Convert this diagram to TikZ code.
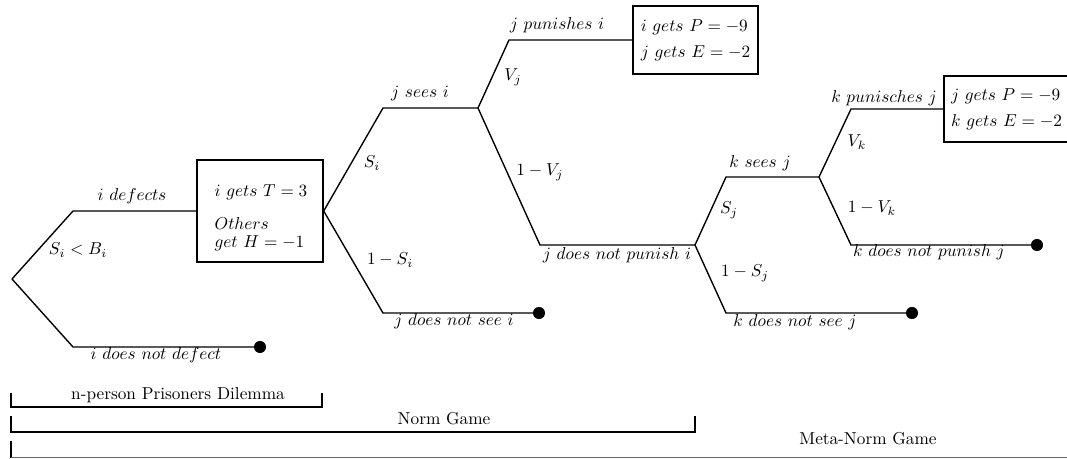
\documentclass[tikz,border=0pt]{standalone}
\begin{document}
\begin{tikzpicture}[x=0.58pt,y=-0.58pt,
  font=\fontsize{10pt}{10.5pt}\selectfont,
  br/.style={line width=0.8pt},
  payoff/.style={draw,line width=0.8pt,align=left,inner sep=0pt},
  lab/.style={inner sep=0pt,anchor=center},
  term/.style={circle,fill=black,inner sep=0pt,minimum size=7pt},
  brk/.style={line width=0.8pt}]
\useasboundingbox (0,0) rectangle (1067,458);
% branching points
\coordinate (r) at (12,279);
\coordinate (a1) at (73,211);
\coordinate (b1) at (73,347);
\coordinate (c1) at (383,108);
\coordinate (d1) at (478,108);
\coordinate (c2) at (383,313);
\coordinate (e1) at (509,40);
\coordinate (e2) at (540,245);
\coordinate (f1) at (695,245);
\coordinate (g1) at (726,177);
\coordinate (h1) at (819,177);
\coordinate (g2) at (726,313);
\coordinate (i1) at (851,109);
\coordinate (i2) at (851,245);
% payoff boxes
\node[payoff,minimum width=73.1pt,minimum height=59.2pt] (box1) at (260,211) {};
\node[lab,align=left] (box1t) at (261,218)
  {$i\ gets\ T=3$\\[8.6pt] $Others$\\ $get\ H=-1$};
\node[payoff,minimum width=72.5pt,minimum height=39.4pt] (box2) at (695.5,40)
  {$i\ gets\ P=-9$\\[4.5pt] $j\ gets\ E=-2$};
\node[payoff,minimum width=72.5pt,minimum height=38.3pt] (box3) at (1006.5,109)
  {$j\ gets\ P=-9$\\[4.5pt] $k\ gets\ E=-2$};
% terminal dots
\node[term] (t1) at (260,347) {};
\node[term] (t2) at (539,313) {};
\node[term] (t3) at (912,313) {};
\node[term] (t4) at (1037,245) {};
% tree
\draw[br] (r) -- (a1) -- (box1.west);
\draw[br] (r) -- (b1) -- (t1.center);
\draw[br] (box1.east) -- (c1) -- (d1);
\draw[br] (box1.east) -- (c2) -- (t2.center);
\draw[br] (d1) -- (e1) -- (box2.west);
\draw[br] (d1) -- (e2) -- (f1);
\draw[br] (f1) -- (g1) -- (h1);
\draw[br] (f1) -- (g2) -- (t3.center);
\draw[br] (h1) -- (i1) -- (box3.west);
\draw[br] (h1) -- (i2) -- (t4.center);
% labels
\node[lab] (l1) at (132,196) {$i\ defects$};
\node[lab] (l2) at (78,250) {$S_i<B_i$};
\node[lab] (l3) at (156,355) {$i\ does\ not\ defect$};
\node[lab] (l4) at (420,93) {$j\ sees\ i$};
\node[lab] (l5) at (372,163) {$S_i$};
\node[lab] (l6) at (390,260) {$1-S_i$};
\node[lab] (l7) at (454,321) {$j\ does\ not\ see\ i$};
\node[lab] (l8) at (557,25) {$j\ punishes\ i$};
\node[lab] (l9) at (513,77) {$V_j$};
\node[lab] (l10) at (540,172) {$1-V_j$};
\node[lab] (l11) at (617,255) {$j\ does\ not\ punish\ i$};
\node[lab] (l12) at (760,163) {$k\ sees\ j$};
\node[lab] (l13) at (729,210) {$S_j$};
\node[lab] (l14) at (745,273) {$1-S_j$};
\node[lab] (l15) at (795,322) {$k\ does\ not\ see\ j$};
\node[lab] (l16) at (884,98) {$k\ punisches\ j$};
\node[lab] (l17) at (857,142) {$V_k$};
\node[lab] (l18) at (872,208) {$1-V_k$};
\node[lab] (l19) at (929,252) {$k\ does\ not\ punish\ j$};
% brackets
\draw[brk] (11,393) |- (322,407) -- (322,393);
\draw[brk] (11,416) |- (695,432) -- (695,416);
\draw[brk] (11,441) -- (11,457.6);
\draw[brk,black!60] (11,457.6) -- (1067,457.6);
\node[lab] (g1l) at (178,395) {n-person Prisoners Dilemma};
\node[lab] (g2l) at (444,419) {Norm Game};
\node[lab] (g3l) at (868,439) {Meta-Norm Game};
\end{tikzpicture}
\end{document}
